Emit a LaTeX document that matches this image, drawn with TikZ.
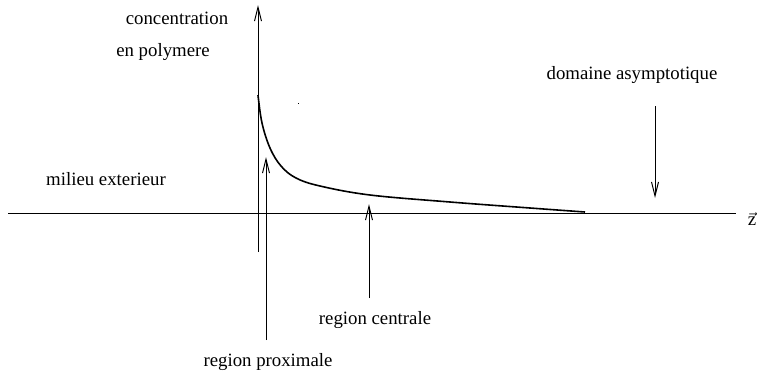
\documentclass[tikz,border=0pt]{standalone}
\usepackage{fontspec}
\setmainfont{Liberation Serif}
\usetikzlibrary{positioning, arrows.meta}

\begin{document}
\begin{tikzpicture}[
  x=0.5pt, y=-0.5pt,
  lbl/.style={font=\fontsize{9.4}{11}\selectfont, inner sep=0pt},
  axe/.style={line width=0.5pt, -{Straight Barb[length=7pt,width=3.5pt]}},
  fleche/.style={line width=0.5pt, -{Straight Barb[length=7pt,width=3.5pt]}},
  courbe/.style={line width=0.8pt},
]
  \useasboundingbox (0,0) rectangle (757,376);

  % axes
  \coordinate (o) at (258,213);
  \coordinate (xg) at (8,213);
  \coordinate (xd) at (736,213);
  \coordinate (yb) at (258,252);
  \coordinate (yh) at (258,5);
  \draw[line width=0.5pt] (xg) -- (xd);
  \draw[axe] (yb) -- (yh);
  \node[lbl] (z) at (752,219) {$\vec{\mathrm{z}}$};

  % profil de concentration
  \draw[courbe] plot[smooth, tension=0.6] coordinates {
    (258,95) (262,123) (270,148) (281,166) (296,178) (320,186)
    (370,195) (450,202) (530,208) (585,212)};
  \fill (297.5,102.5) rectangle (299,104);

  % textes
  \node[lbl] (conc) at (177,18) {concentration};
  \node[lbl] (poly) at (163,52) {en polymere};
  \node[lbl] (ext) at (106,179) {milieu exterieur};
  \node[lbl] (asym) at (632,75) {domaine asymptotique};
  \node[lbl] (cent) at (375,320) {region centrale};
  \node[lbl] (prox) at (268,362) {region proximale};

  % fleches
  \coordinate (p1) at (266,340);
  \coordinate (p2) at (266,157);
  \coordinate (c1) at (369,298);
  \coordinate (c2) at (369,204);
  \coordinate (a1) at (655,106);
  \coordinate (a2) at (655,198);
  \draw[fleche] (p1) -- (p2);
  \draw[fleche] (c1) -- (c2);
  \draw[fleche] (a1) -- (a2);
\end{tikzpicture}
\end{document}
